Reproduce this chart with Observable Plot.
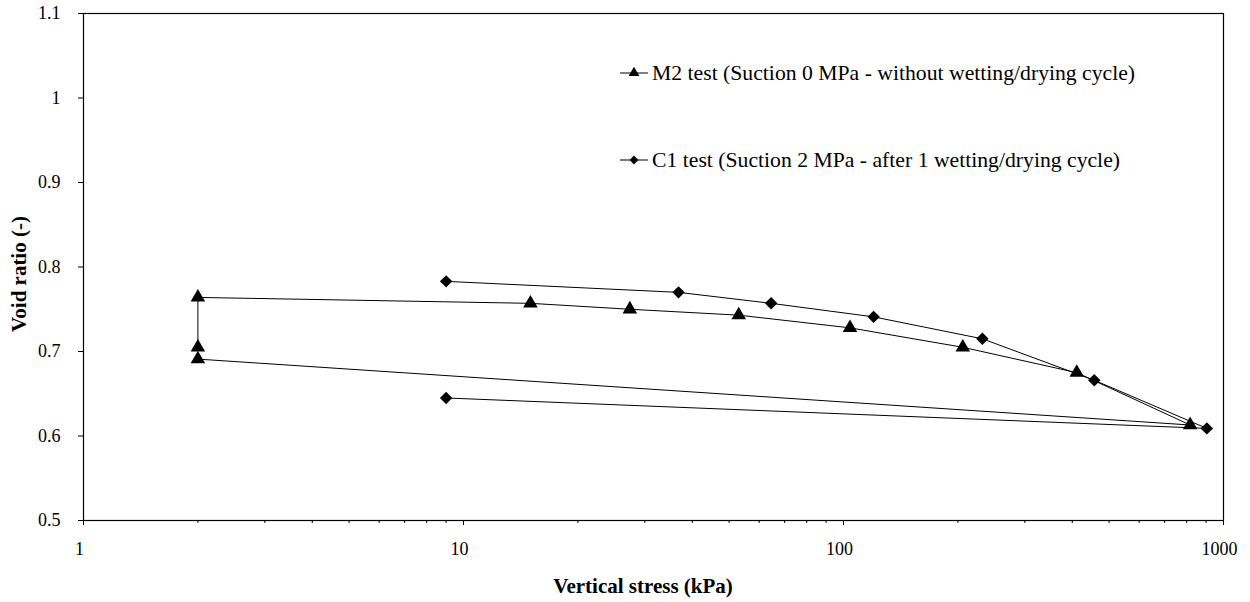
<!DOCTYPE html>
<html>
<head>
<meta charset="utf-8">
<script src="https://cdn.jsdelivr.net/npm/d3@7"></script>
<script src="https://cdn.jsdelivr.net/npm/@observablehq/plot@0.6"></script>
<style>
  html, body { margin: 0; padding: 0; background: white; }
  #wrap { position: relative; width: 1250px; height: 602px; font-family: "Liberation Serif", Tinos, "Times New Roman", Times, "DejaVu Serif", serif; color: black; }
  .legrow { position: absolute; left: 619px; height: 26px; display: flex; align-items: center; font-size: 21.7px; white-space: nowrap; }
  .legrow svg { margin-right: 3px; }
  .title { position: absolute; font-weight: bold; font-size: 21px; white-space: nowrap; }
</style>
</head>
<body>
<div id="wrap"></div>
<script>
// Data
const m2Name = "M2 test (Suction 0 MPa - without wetting/drying cycle)";
const m2Stress = [2, 2, 15, 27.4, 53, 104, 206, 411, 817, 2];
const m2Void   = [0.705, 0.764, 0.757, 0.750, 0.743, 0.728, 0.705, 0.675, 0.613, 0.691];

const c1Name = "C1 test (Suction 2 MPa - after 1 wetting/drying cycle)";
const c1Stress = [9, 36.8, 64.5, 120, 232, 457, 904, 9];
const c1Void   = [0.783, 0.770, 0.757, 0.741, 0.715, 0.666, 0.609, 0.645];

const xMajorTicks = [1, 10, 100, 1000];
const xMinorTicks = [2,3,4,5,6,7,8,9, 20,30,40,50,60,70,80,90, 200,300,400,500,600,700,800,900];
const yTicks = [0.5, 0.6, 0.7, 0.8, 0.9, 1.0, 1.1];

const xTitle = "Vertical stress (kPa)";
const yTitle = "Void ratio (-)";

const fontStack = '"Liberation Serif", Tinos, "Times New Roman", Times, "DejaVu Serif", serif';

const m2Rows = m2Stress.map((s, i) => ({stress: s, e: m2Void[i]}));
const c1Rows = c1Stress.map((s, i) => ({stress: s, e: c1Void[i]}));

const chart = Plot.plot({
  width: 1250,
  height: 602,
  marginLeft: 83,
  marginRight: 27,
  marginTop: 13,
  marginBottom: 82,
  x: {type: "log", domain: [1, 1000]},
  y: {domain: [0.5, 1.1]},
  style: {fontFamily: fontStack, fontSize: "18px", color: "black", background: "white"},
  marks: [
    Plot.frame({stroke: "black", strokeWidth: 1.2}),
    Plot.axisX({ticks: xMajorTicks, tickSize: 5, tickFormat: () => "", label: null}),
    Plot.axisX({ticks: xMajorTicks, tickSize: 0, tickPadding: 22, dx: -4, tickFormat: d => String(d), label: null}),
    Plot.axisX({ticks: xMinorTicks, tickSize: 3, tickFormat: () => "", label: null}),
    Plot.axisY({ticks: yTicks, tickSize: 5, tickPadding: 18, tickFormat: d => String(+d.toFixed(1)), label: null}),
    Plot.line(m2Rows, {x: "stress", y: "e", stroke: "black", strokeWidth: 1}),
    Plot.line(c1Rows, {x: "stress", y: "e", stroke: "black", strokeWidth: 1}),
    Plot.dot(m2Rows, {x: "stress", y: "e", symbol: "triangle", r: 5.4, fill: "black"}),
    Plot.dot(c1Rows, {x: "stress", y: "e", symbol: "diamond2", r: 5.6, fill: "black"})
  ]
});

const wrap = document.getElementById("wrap");
wrap.appendChild(chart);

// Axis titles
const xt = document.createElement("div");
xt.className = "title";
xt.textContent = xTitle;
xt.style.left = "643px";
xt.style.top = "586px";
xt.style.transform = "translate(-50%, -50%)";
wrap.appendChild(xt);

const yt = document.createElement("div");
yt.className = "title";
yt.textContent = yTitle;
yt.style.left = "19px";
yt.style.top = "274px";
yt.style.transform = "translate(-50%, -50%) rotate(-90deg)";
wrap.appendChild(yt);

// Legend
function legendRow(name, symbol, top) {
  const row = document.createElement("div");
  row.className = "legrow";
  row.style.top = (top - 13) + "px";
  const ns = "http://www.w3.org/2000/svg";
  const s = document.createElementNS(ns, "svg");
  s.setAttribute("width", 30); s.setAttribute("height", 14);
  const ln = document.createElementNS(ns, "line");
  ln.setAttribute("x1", 1); ln.setAttribute("x2", 29); ln.setAttribute("y1", 7); ln.setAttribute("y2", 7);
  ln.setAttribute("stroke", "black"); ln.setAttribute("stroke-width", 1);
  s.appendChild(ln);
  const p = document.createElementNS(ns, "path");
  const sym = symbol === "triangle" ? d3.symbolTriangle : d3.symbolDiamond2;
  p.setAttribute("d", d3.symbol(sym, 50)());
  p.setAttribute("transform", "translate(15,7)");
  p.setAttribute("fill", "black");
  s.appendChild(p);
  row.appendChild(s);
  const t = document.createElement("span");
  t.textContent = name;
  row.appendChild(t);
  wrap.appendChild(row);
}
legendRow(m2Name, "triangle", 73);
legendRow(c1Name, "diamond", 160);
</script>
</body>
</html>
